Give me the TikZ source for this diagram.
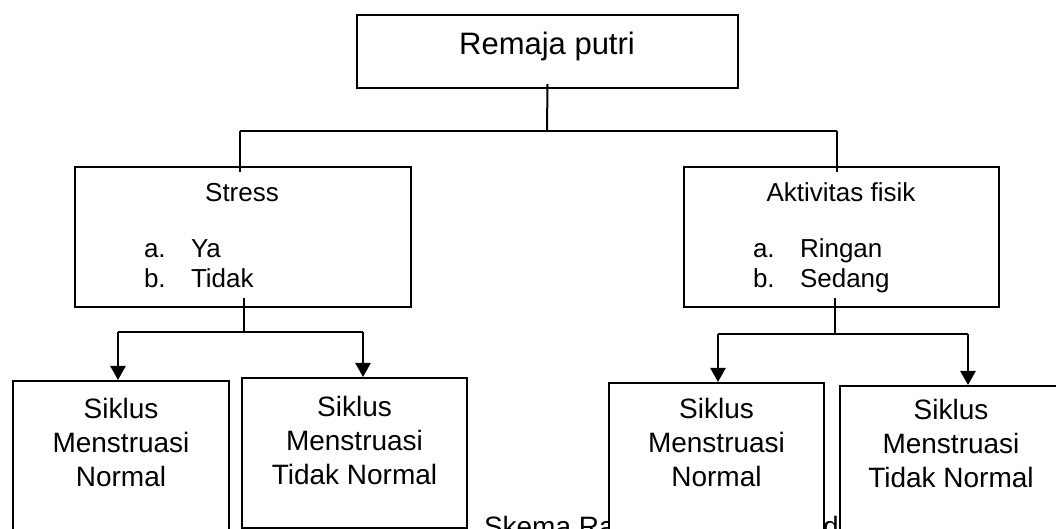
\documentclass[tikz,border=0pt]{standalone}
\usepackage{fontspec}
\setmainfont{Liberation Sans}
\usetikzlibrary{positioning,arrows.meta}

\begin{document}
\begin{tikzpicture}[x=0.5pt, y=-0.5pt, line width=1pt,
    every node/.style={inner sep=0pt},
    kotak/.style={draw, fill=white, anchor=north west},
    judul/.style={font=\fontsize{15.5}{18}\selectfont},
    sub/.style={font=\fontsize{13}{15}\selectfont},
    isi/.style={font=\fontsize{14}{17}\selectfont, align=center},
    panah/.style={line width=1.2pt, -{Triangle[length=7pt,width=7.5pt]}}]
  \useasboundingbox (0,0) rectangle (1056,529);

  % keterangan (sebagian tertutup kotak)
  \node[isi, anchor=base west] (ket1) at (483,537) {Skema Ra};
  \node[isi, anchor=base west] (ket2) at (822,537) {d};

  % kotak
  \node[kotak, minimum width=190.5pt, minimum height=36.5pt] (remaja) at (356,14) {};
  \node[kotak, minimum width=168pt, minimum height=70pt] (stress) at (74,166) {};
  \node[kotak, minimum width=157.5pt, minimum height=70pt] (fisik) at (683,166) {};
  \node[kotak, minimum width=108pt, minimum height=85pt] (s1) at (12,380) {};
  \node[kotak, minimum width=112.5pt, minimum height=75pt] (s2) at (241,377) {};
  \node[kotak, minimum width=107.5pt, minimum height=85pt] (s3) at (608,382) {};
  \node[kotak, minimum width=111pt, minimum height=85pt] (s4) at (839,385) {};

  % teks
  \node[judul, anchor=base] (tRemaja) at (547,55) {Remaja putri};
  \node[sub, anchor=base] (tStress) at (242,202) {Stress};
  \node[sub, anchor=base west] (sA) at (143,258) {a.};
  \node[sub, anchor=base west] (sYa) at (190,258) {Ya};
  \node[sub, anchor=base west] (sB) at (143,288) {b.};
  \node[sub, anchor=base west] (sTidak) at (190,288) {Tidak};
  \node[sub, anchor=base] (tFisik) at (841,202) {Aktivitas fisik};
  \node[sub, anchor=base west] (fA) at (752,258) {a.};
  \node[sub, anchor=base west] (fRingan) at (799,258) {Ringan};
  \node[sub, anchor=base west] (fB) at (752,288) {b.};
  \node[sub, anchor=base west] (fSedang) at (799,288) {Sedang};
  \node[isi, below=8.5pt of s1.north] (t1) {Siklus\\Menstruasi\\Normal};
  \node[isi, below=9pt of s2.north] (t2) {Siklus\\Menstruasi\\Tidak Normal};
  \node[isi, below=7.5pt of s3.north] (t3) {Siklus\\Menstruasi\\Normal};
  \node[isi, below=6.5pt of s4.north] (t4) {Siklus\\Menstruasi\\Tidak Normal};

  % garis penghubung atas
  \coordinate (cabang) at (547,131);
  \coordinate (kiri) at (240,131);
  \coordinate (kanan) at (837,131);
  \draw ([yshift=2.5pt]remaja.south) -- (cabang);
  \draw (kiri) -- (kanan);
  \draw (kiri) -- ([yshift=-3pt]kiri |- stress.north);
  \draw (kanan) -- ([yshift=-3pt]kanan |- fisik.north);

  % cabang stress
  \coordinate (cS) at (244,332);
  \coordinate (kiS) at (118,332);
  \coordinate (kaS) at (363,332);
  \draw ([yshift=5pt]cS |- stress.south) -- (cS);
  \draw (kiS) -- (kaS);
  \draw[panah] (kiS) -- (kiS |- s1.north);
  \draw[panah] (kaS) -- (kaS |- s2.north);

  % cabang aktivitas fisik
  \coordinate (cF) at (835,334);
  \coordinate (kiF) at (718,334);
  \coordinate (kaF) at (968,334);
  \draw ([yshift=5pt]cF |- fisik.south) -- (cF);
  \draw (kiF) -- (kaF);
  \draw[panah] (kiF) -- (kiF |- s3.north);
  \draw[panah] (kaF) -- (kaF |- s4.north);
\end{tikzpicture}
\end{document}
